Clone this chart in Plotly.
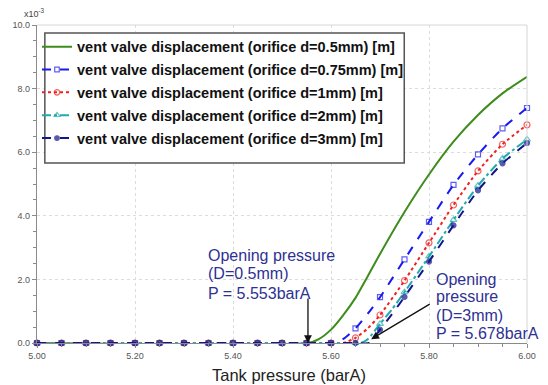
import plotly.graph_objects as go

# Tank pressure (barA) and vent valve displacement (x1e-3 m)
zero_grid = [5.00, 5.05, 5.10, 5.15, 5.20, 5.25, 5.30, 5.35, 5.40, 5.45, 5.50, 5.55, 5.60, 5.65]

p_d05 = [5.00, 5.553, 5.575, 5.60, 5.625, 5.65, 5.675, 5.70, 5.75, 5.80, 5.85, 5.90, 5.95, 6.00]
y_d05 = [0.0, 0.0, 0.12, 0.42, 0.88, 1.42, 2.10, 2.80, 4.12, 5.30, 6.33, 7.17, 7.85, 8.37]

p_d075 = [5.60, 5.625, 5.65, 5.675, 5.70, 5.75, 5.80, 5.85, 5.90, 5.95, 6.00]
y_d075 = [0.0, 0.13, 0.46, 0.92, 1.44, 2.63, 3.81, 4.97, 5.93, 6.75, 7.39]

p_d1 = [5.625, 5.65, 5.675, 5.70, 5.75, 5.80, 5.85, 5.90, 5.95, 6.00]
y_d1 = [0.0, 0.16, 0.46, 0.88, 1.96, 3.15, 4.34, 5.41, 6.25, 6.86]

p_d2 = [5.66, 5.675, 5.70, 5.725, 5.75, 5.80, 5.85, 5.90, 5.95, 6.00]
y_d2 = [0.0, 0.12, 0.60, 1.07, 1.60, 2.72, 3.87, 4.95, 5.80, 6.40]

p_d3 = [5.678, 5.70, 5.725, 5.75, 5.80, 5.85, 5.90, 5.95, 6.00]
y_d3 = [0.0, 0.42, 0.92, 1.45, 2.56, 3.70, 4.80, 5.65, 6.29]

names = [
    "vent valve displacement (orifice d=0.5mm) [m]",
    "vent valve displacement (orifice d=0.75mm) [m]",
    "vent valve displacement (orifice d=1mm) [m]",
    "vent valve displacement (orifice d=2mm) [m]",
    "vent valve displacement (orifice d=3mm) [m]",
]
x_ticks = [5.00, 5.20, 5.40, 5.60, 5.80, 6.00]
y_ticks = [0.0, 2.0, 4.0, 6.0, 8.0, 10.0]
open_p_05 = 5.553
open_p_3 = 5.678
note_05 = ["Opening pressure", "(D=0.5mm)", "P = 5.553barA"]
note_3 = ["Opening", "pressure", "(D=3mm)", "P = 5.678barA"]


def with_zero(p, y):
    xs = [g for g in zero_grid if g < p[0] - 1e-9] + list(p)
    ys = [0.0] * (len(xs) - len(p)) + list(y)
    return xs, ys


def marker_sizes(xs, s):
    out = []
    for v in xs:
        k = round(v / 0.05) * 0.05
        out.append(s if abs(k - v) < 1e-6 else 0)
    return out


fig = go.Figure()

fig.add_trace(go.Scatter(
    x=p_d05, y=y_d05, mode="lines", name=names[0],
    line=dict(color="#3d8c1c", width=2, shape="spline", smoothing=0.6),
    cliponaxis=False, legendgroup="a"))

styles = [
    (p_d075, y_d075, "#1a1aee", "dash", "square-open", 5, "b"),
    (p_d1, y_d1, "#f02020", "dot", "circle-open", 6, "c"),
    (p_d2, y_d2, "#22aaaa", "dashdot", "triangle-up-open", 6, "d"),
    (p_d3, y_d3, "#14148c", "dash", "circle", 5, "e"),
]
for i, (p, y, col, dash, sym, ms, grp) in enumerate(styles):
    xs, ys = with_zero(p, y)
    fig.add_trace(go.Scatter(
        x=xs, y=ys, mode="lines+markers", name=names[i + 1],
        line=dict(color=col, width=2, dash=dash, shape="spline", smoothing=0.6),
        marker=dict(symbol=sym, size=marker_sizes(xs, ms), color=col,
                    line=dict(color=col, width=1.2)),
        cliponaxis=False, legendgroup=grp))

# arrows
fig.add_annotation(x=open_p_05, y=0, ax=0, ay=-46, axref="pixel", ayref="pixel",
                   showarrow=True, arrowhead=2, arrowsize=1.2, arrowwidth=1.3,
                   arrowcolor="#111111", text="")
fig.add_annotation(x=open_p_3 + 0.004, y=0.12, ax=60, ay=-36, axref="pixel", ayref="pixel",
                   showarrow=True, arrowhead=2, arrowsize=1.2, arrowwidth=1.3,
                   arrowcolor="#111111", text="")

txt_font = dict(family="Arial, Liberation Sans, sans-serif", size=16, color="#2e3192")
for line, yy in zip(note_05, [2.74, 2.17, 1.57]):
    fig.add_annotation(x=5.345, y=yy, xanchor="left", yanchor="middle", showarrow=False,
                       text=line, font=txt_font)
for line, yy in zip(note_3, [2.01, 1.45, 0.85, 0.31]):
    fig.add_annotation(x=5.811, y=yy, xanchor="left", yanchor="middle", showarrow=False,
                       text=line, font=txt_font)

fig.add_annotation(xref="paper", yref="paper", x=0.515, y=-0.101, xanchor="center", yanchor="middle",
                   showarrow=False, text="Tank pressure (barA)",
                   font=dict(family="Arial, Liberation Sans, sans-serif", size=16.5, color="#222222"))
fig.add_annotation(xref="paper", yref="paper", x=-0.03, y=1.012, xanchor="left", yanchor="bottom",
                   showarrow=False, text="x10<sup>-3</sup>",
                   font=dict(family="Arial, Liberation Sans, sans-serif", size=9, color="#444444"))

# light frame top/right
fig.add_shape(type="line", xref="paper", yref="paper", x0=0, x1=1, y0=1, y1=1,
              line=dict(color="#d6d6d6", width=1))
fig.add_shape(type="line", xref="paper", yref="paper", x0=1, x1=1, y0=0, y1=1,
              line=dict(color="#d6d6d6", width=1))
# legend box
fig.add_shape(type="rect", xref="paper", yref="paper", x0=0.016, x1=0.7495, y0=0.566, y1=0.975,
              line=dict(color="#555555", width=1.5), fillcolor="white", layer="above")

axis_common = dict(
    showline=True, linecolor="#8a8a8a", linewidth=1.2,
    ticks="outside", ticklen=4, tickcolor="#8a8a8a",
    showgrid=True, gridcolor="#dcdcdc", griddash="dot", gridwidth=1,
    zeroline=False,
    tickfont=dict(family="Arial, Liberation Sans, sans-serif", size=9, color="#555555"),
)

fig.update_xaxes(range=[5.0, 6.0], tickvals=x_ticks, ticktext=[f"{v:.2f}" for v in x_ticks],
                 minor=dict(dtick=0.05, ticks="outside", ticklen=3, tickcolor="#8a8a8a", showgrid=False),
                 **axis_common)
fig.update_yaxes(range=[0.0, 10.0], tickvals=y_ticks, ticktext=[f"{v:.1f}" for v in y_ticks],
                 minor=dict(dtick=0.5, ticks="outside", ticklen=3, tickcolor="#8a8a8a", showgrid=False),
                 **axis_common)

fig.update_layout(
    width=548, height=385,
    margin=dict(l=37, r=16, t=25, b=42),
    plot_bgcolor="white", paper_bgcolor="white",
    showlegend=True,
    legend=dict(x=0.0, y=0.982, xanchor="left", yanchor="top",
                bgcolor="rgba(0,0,0,0)", borderwidth=0,
                font=dict(family="Arial, Liberation Sans, sans-serif", size=14.5, color="#111111", weight="bold"),
                tracegroupgap=1, itemwidth=30),
)

fig.write_html("out.html")
